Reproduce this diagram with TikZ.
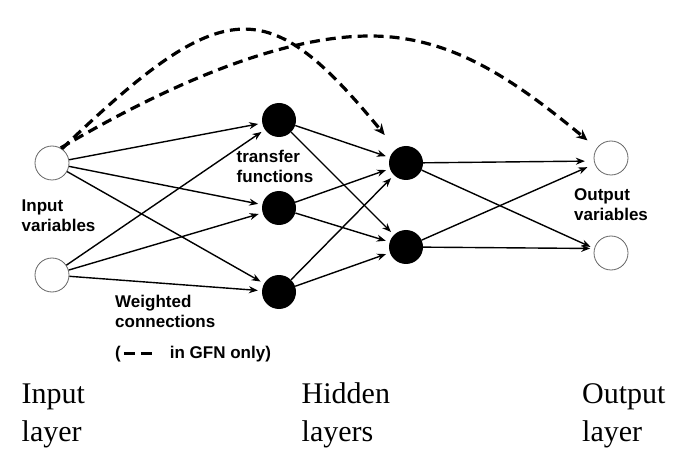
\documentclass[tikz,border=0pt]{standalone}
\usepackage{fontspec}
\setmainfont{Liberation Serif}
\setsansfont{Liberation Sans}
\usetikzlibrary{arrows.meta}
\begin{document}
\begin{tikzpicture}[x=1pt,y=1pt,
  inode/.style={circle, draw=black!60, line width=0.8pt, minimum size=34pt, inner sep=0pt, fill=white},
  hnode/.style={circle, fill=black, minimum size=34pt, inner sep=0pt},
  edge/.style={line width=1.4pt, -{Stealth[length=9pt,width=7pt]}, shorten >=4pt},
  gfn/.style={line width=3.2pt, dash pattern=on 10pt off 6pt, -{Stealth[length=11pt,width=10pt]}},
  lbl/.style={font=\sffamily\bfseries\fontsize{17}{20}\selectfont, align=left, inner sep=0pt},
  layerlbl/.style={font=\rmfamily\fontsize{30}{38}\selectfont, align=left, inner sep=0pt}
]
\useasboundingbox (0,0) rectangle (685,469);
% nodes
\node[inode] (i1) at (52,306) {};
\node[inode] (i2) at (52,194) {};
\node[hnode] (h1) at (279,349) {};
\node[hnode] (h2) at (279,261) {};
\node[hnode] (h3) at (279,177) {};
\node[hnode] (g1) at (406,306) {};
\node[hnode] (g2) at (406,222) {};
\node[inode] (o1) at (611,311) {};
\node[inode] (o2) at (611,216) {};
% input -> hidden 1
\foreach \s in {i1,i2}{
  \foreach \t in {h1,h2,h3}{
    \draw[edge] (\s) -- (\t);
  }
}
% hidden 1 -> hidden 2
\foreach \s in {h1,h2,h3}{
  \foreach \t in {g1,g2}{
    \draw[edge] (\s) -- (\t);
  }
}
% hidden 2 -> output
\draw[edge, shorten >=9pt] (g1) -- (o1.190);
\draw[edge, shorten >=8pt] (g2) -- (o1.200);
\draw[edge] (g1) -- (o2.165);
\draw[edge] (g2) -- (o2.165);
% GFN dashed connections
\coordinate (gtop) at (370,433);
\draw[gfn, shorten >=18pt] (i1.55) .. controls (225,477) and (268,476) .. (g1.125);
\draw[gfn, shorten >=12pt] (i1.60) .. controls (147,372) and (270,433) .. (gtop)
   .. controls (450,433) and (512,391) .. (o1.145);
% labels (anchor at baseline of last line)
\node[lbl, anchor=base west] (iv) at (21.5,237) {Input\\variables};
\node[lbl, anchor=base west] (tf) at (236.5,286) {transfer\\functions};
\node[lbl, anchor=base west] (ov) at (574,248) {Output\\variables};
\node[lbl, anchor=base west] (wc) at (115,142) {Weighted\\connections};
\node[lbl, anchor=base west] (leg) at (115,111) {(\hspace{3pt}\rule[3pt]{11pt}{3pt}\hspace{6pt}\rule[3pt]{11pt}{3pt}\hspace{18pt}in GFN only)};
\node[layerlbl, anchor=base west] (il) at (21.5,28) {Input\\layer};
\node[layerlbl, anchor=base west] (hl) at (301.5,28) {Hidden\\layers};
\node[layerlbl, anchor=base west] (ol) at (582,28) {Output\\layer};
\end{tikzpicture}
\end{document}
